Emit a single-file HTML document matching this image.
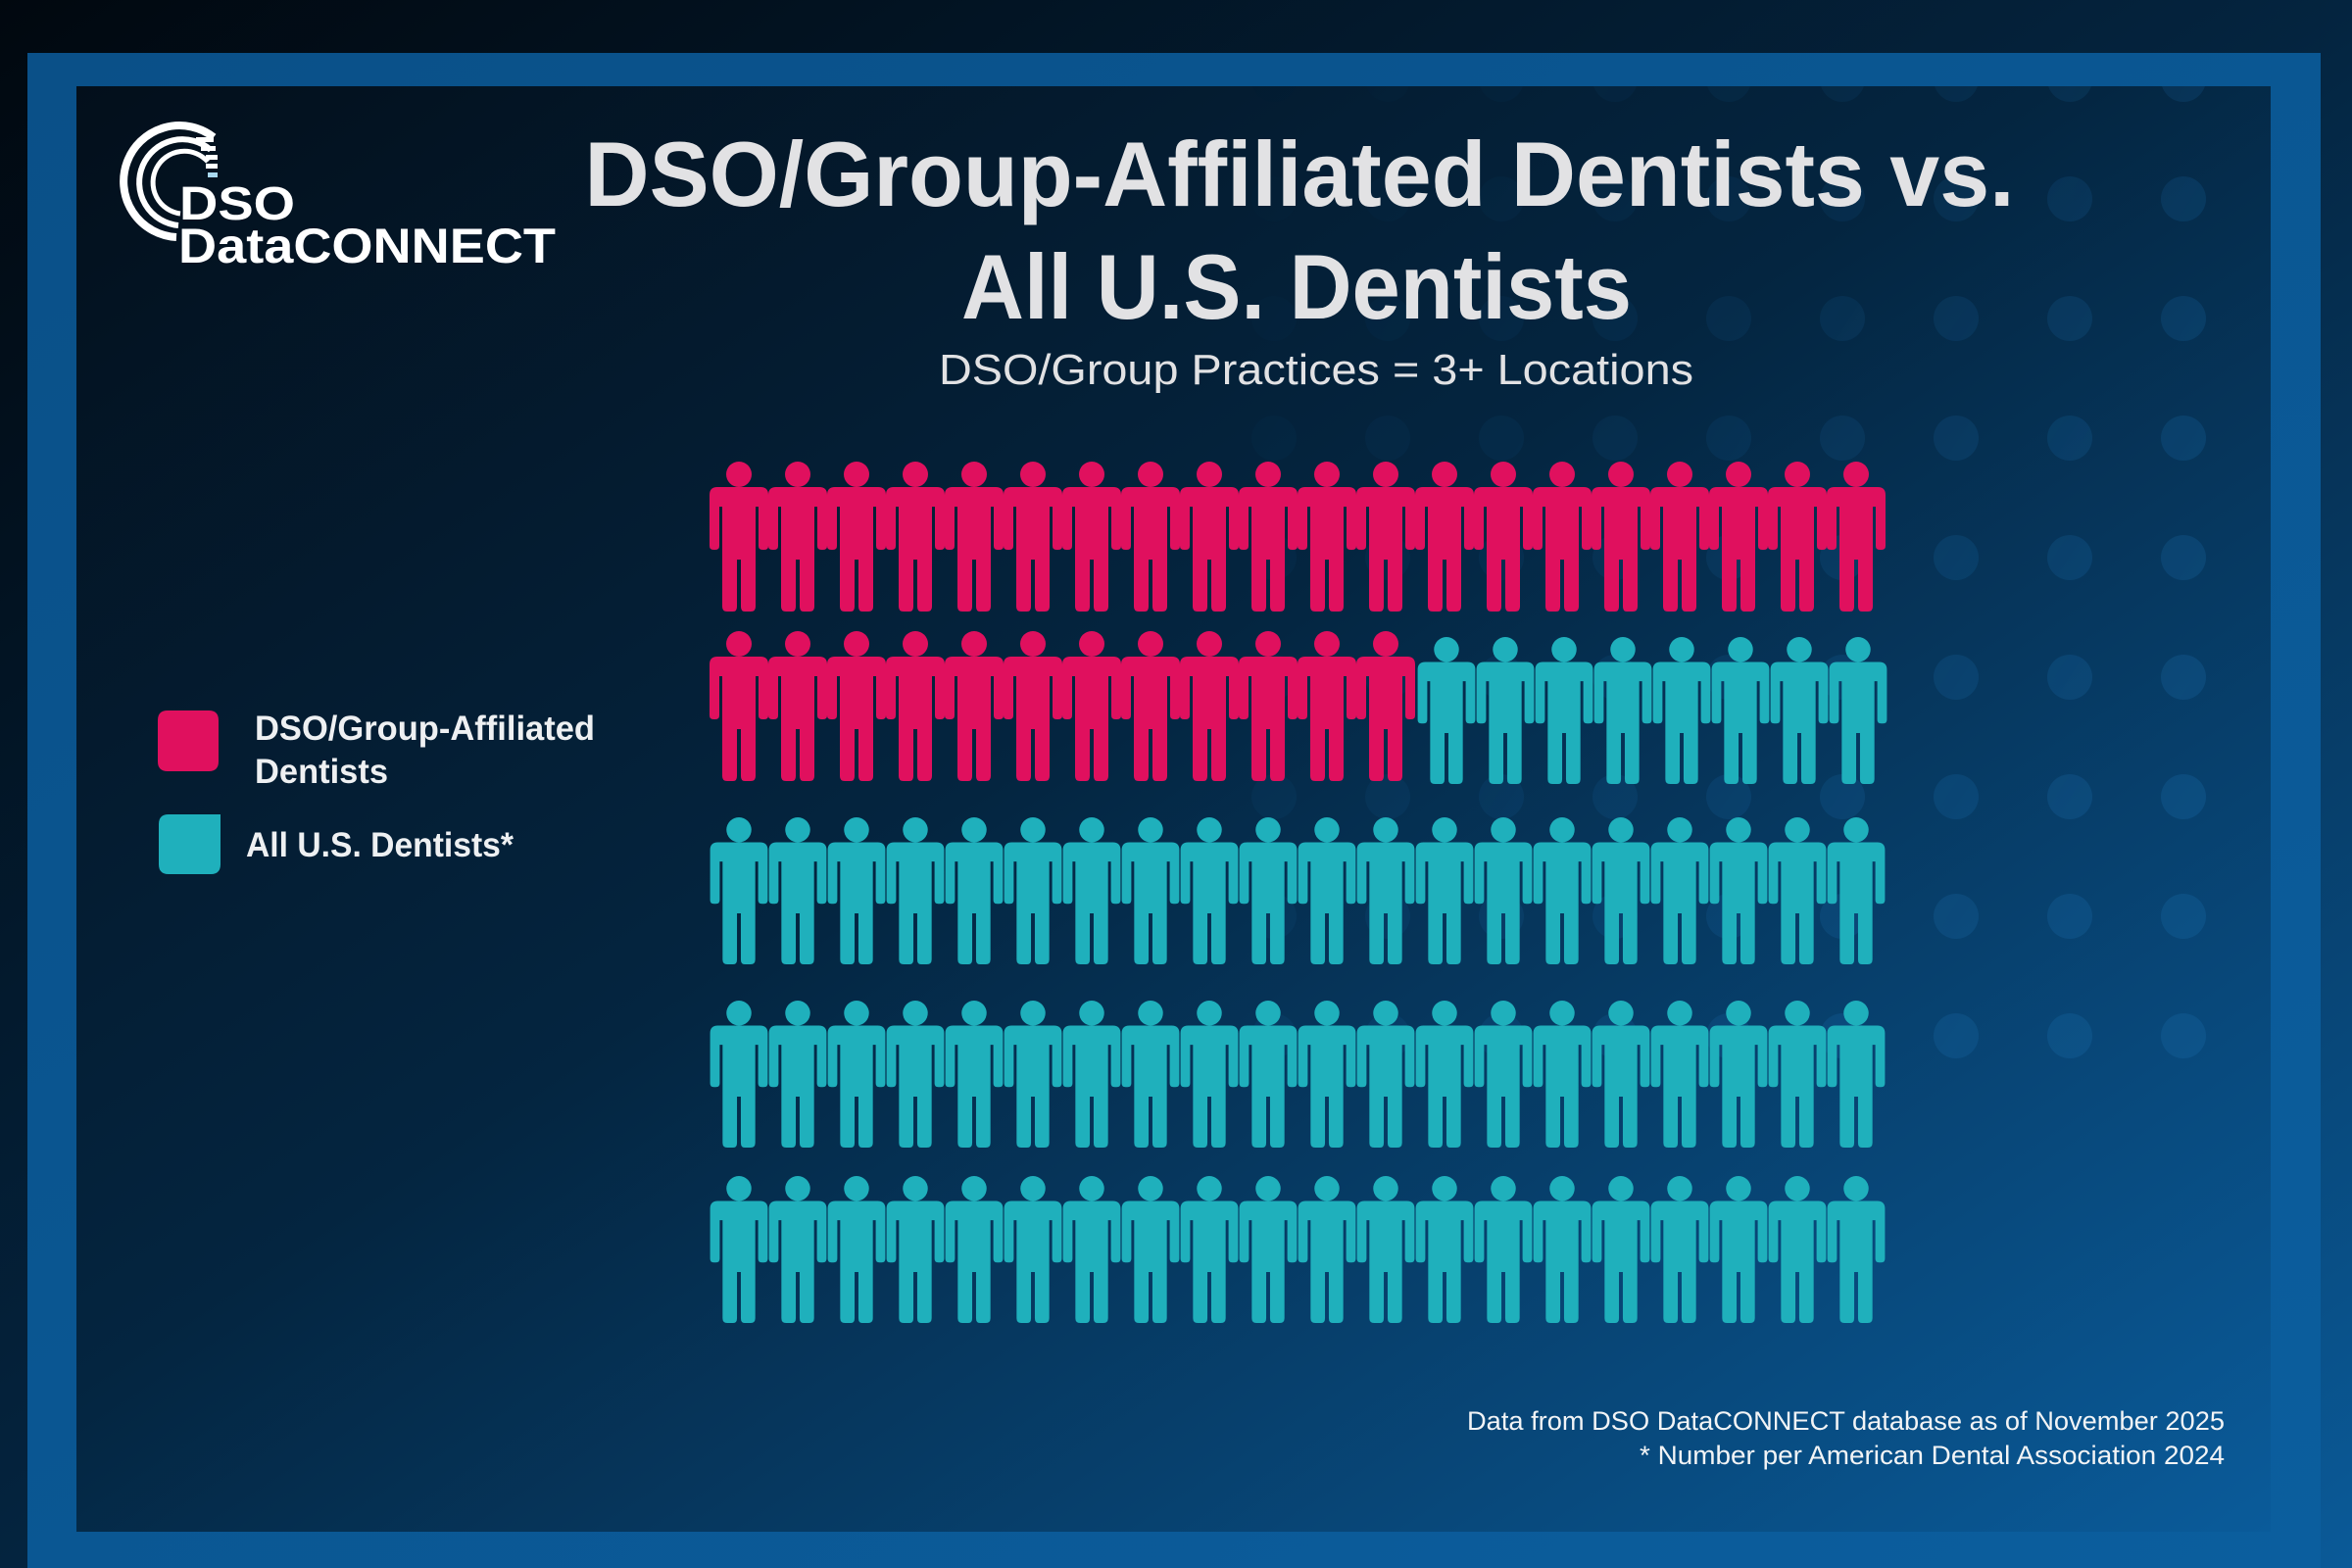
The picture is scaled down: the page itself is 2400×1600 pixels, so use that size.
<!DOCTYPE html>
<html><head><meta charset="utf-8"><style>
html,body{margin:0;padding:0;width:2400px;height:1600px;overflow:hidden;background:#021019;}
svg{display:block}
</style></head><body>
<svg width="2400" height="1600" viewBox="0 0 2400 1600" xmlns="http://www.w3.org/2000/svg">
<defs>
<linearGradient id="bg" x1="0" y1="0" x2="1" y2="1">
<stop offset="0" stop-color="#01080f"/><stop offset="0.5" stop-color="#04243f"/><stop offset="1" stop-color="#0a5a98"/>
</linearGradient>
<linearGradient id="panel" x1="0" y1="0" x2="1" y2="1">
<stop offset="0" stop-color="#030f1b"/><stop offset="0.45" stop-color="#042540"/><stop offset="1" stop-color="#0a5b9a"/>
</linearGradient>
<linearGradient id="frame" x1="0" y1="0" x2="1" y2="1">
<stop offset="0" stop-color="#0a5088"/><stop offset="1" stop-color="#0b5e9e"/>
</linearGradient>
<pattern id="dots" x="0" y="0" width="116" height="122" patternUnits="userSpaceOnUse">
<circle cx="24" cy="81" r="23" fill="#1a6aa8"/>
</pattern>
<linearGradient id="fade" x1="0" y1="0" x2="1" y2="0.6">
<stop offset="0" stop-color="#fff" stop-opacity="0"/><stop offset="0.5" stop-color="#fff" stop-opacity="0.12"/><stop offset="1" stop-color="#fff" stop-opacity="0.3"/>
</linearGradient>
<mask id="m"><rect x="1250" y="88" width="1070" height="1000" fill="url(#fade)"/></mask>
<symbol id="p" viewBox="0 0 60 153">
<circle cx="30" cy="13" r="13"/>
<path d="M8 26 H52 Q60 26 60 34 V86 Q60 90 56 90 H54 Q50 90 50 86 V46 H47 V148 Q47 153 42 153 H36 Q32 153 32 148 V100 H28 V148 Q28 153 24 153 H18 Q13 153 13 148 V46 H10 V86 Q10 90 6 90 H4 Q0 90 0 86 V34 Q0 26 8 26 Z"/>
</symbol>
</defs>
<rect width="2400" height="1600" fill="url(#bg)"/>
<rect x="28" y="54" width="2340" height="1560" fill="url(#frame)"/>
<rect x="78" y="88" width="2239" height="1475" fill="url(#panel)"/>
<rect x="1250" y="88" width="1067" height="1000" fill="url(#dots)" mask="url(#m)"/>

<!-- logo -->
<g fill="none" stroke="#fff">
<path d="M218 140 A57 57 0 1 0 180 242" stroke-width="8"/>
<path d="M215 153 A44 44 0 1 0 182 230" stroke-width="6"/>
<path d="M212 165 A32 32 0 1 0 184 218" stroke-width="5"/>
</g>
<g fill="#fff">
<rect x="200" y="140" width="18" height="5"/><rect x="205" y="149" width="15" height="5"/><rect x="210" y="158" width="12" height="5"/>
<rect x="210" y="167" width="12" height="5"/><rect x="212" y="176" width="10" height="5" fill="#a8d8f0"/>
</g>
<g font-family="Liberation Sans, sans-serif" font-weight="bold" fill="#fff">
<text x="183" y="224" font-size="48" textLength="118" lengthAdjust="spacingAndGlyphs">DSO</text>
<text x="182" y="268" font-size="50" textLength="385" lengthAdjust="spacingAndGlyphs">DataCONNECT</text>
</g>

<!-- title -->
<g font-family="Liberation Sans, sans-serif" fill="#e2e2e4" text-anchor="middle">
<text x="1326" y="210" font-size="94" font-weight="bold" textLength="1459" lengthAdjust="spacingAndGlyphs">DSO/Group-Affiliated Dentists vs.</text>
<text x="1323" y="325" font-size="94" font-weight="bold" textLength="684" lengthAdjust="spacingAndGlyphs">All U.S. Dentists</text>
<text x="1343" y="392" font-size="44" textLength="770" lengthAdjust="spacingAndGlyphs">DSO/Group Practices = 3+ Locations</text>
</g>

<!-- legend -->
<path d="M171 725 H213 Q223 725 223 735 V777 Q223 787 213 787 H171 Q161 787 161 777 V735 Q161 725 171 725 Z" fill="#e0105e"/>
<path d="M172 831 H225 V882 Q225 892 215 892 H172 Q162 892 162 882 V841 Q162 831 172 831 Z" fill="#1fb0bc"/>
<g font-family="Liberation Sans, sans-serif" font-weight="bold" fill="#eef0f2" font-size="35">
<text x="260" y="755" textLength="347" lengthAdjust="spacingAndGlyphs">DSO/Group-Affiliated</text>
<text x="260" y="799" textLength="136" lengthAdjust="spacingAndGlyphs">Dentists</text>
<text x="251" y="874" textLength="273" lengthAdjust="spacingAndGlyphs">All U.S. Dentists*</text>
</g>

<!-- people -->
<g id="people">
<g fill="#e0105e">
<use href="#p" x="724" y="471" width="60" height="153"/><use href="#p" x="784" y="471" width="60" height="153"/><use href="#p" x="844" y="471" width="60" height="153"/><use href="#p" x="904" y="471" width="60" height="153"/><use href="#p" x="964" y="471" width="60" height="153"/><use href="#p" x="1024" y="471" width="60" height="153"/><use href="#p" x="1084" y="471" width="60" height="153"/><use href="#p" x="1144" y="471" width="60" height="153"/><use href="#p" x="1204" y="471" width="60" height="153"/><use href="#p" x="1264" y="471" width="60" height="153"/><use href="#p" x="1324" y="471" width="60" height="153"/><use href="#p" x="1384" y="471" width="60" height="153"/><use href="#p" x="1444" y="471" width="60" height="153"/><use href="#p" x="1504" y="471" width="60" height="153"/><use href="#p" x="1564" y="471" width="60" height="153"/><use href="#p" x="1624" y="471" width="60" height="153"/><use href="#p" x="1684" y="471" width="60" height="153"/><use href="#p" x="1744" y="471" width="60" height="153"/><use href="#p" x="1804" y="471" width="60" height="153"/><use href="#p" x="1864" y="471" width="60" height="153"/>
<use href="#p" x="724" y="644" width="60" height="153"/><use href="#p" x="784" y="644" width="60" height="153"/><use href="#p" x="844" y="644" width="60" height="153"/><use href="#p" x="904" y="644" width="60" height="153"/><use href="#p" x="964" y="644" width="60" height="153"/><use href="#p" x="1024" y="644" width="60" height="153"/><use href="#p" x="1084" y="644" width="60" height="153"/><use href="#p" x="1144" y="644" width="60" height="153"/><use href="#p" x="1204" y="644" width="60" height="153"/><use href="#p" x="1264" y="644" width="60" height="153"/><use href="#p" x="1324" y="644" width="60" height="153"/><use href="#p" x="1384" y="644" width="60" height="153"/>
</g>
<g fill="#1fb0bc">
<use href="#p" x="1446" y="650" width="60" height="150"/><use href="#p" x="1506" y="650" width="60" height="150"/><use href="#p" x="1566" y="650" width="60" height="150"/><use href="#p" x="1626" y="650" width="60" height="150"/><use href="#p" x="1686" y="650" width="60" height="150"/><use href="#p" x="1746" y="650" width="60" height="150"/><use href="#p" x="1806" y="650" width="60" height="150"/><use href="#p" x="1866" y="650" width="60" height="150"/>
</g>
<g fill="#1fb0bc" id="trow">
<use href="#p" x="724" y="834" width="60" height="150"/><use href="#p" x="784" y="834" width="60" height="150"/><use href="#p" x="844" y="834" width="60" height="150"/><use href="#p" x="904" y="834" width="60" height="150"/><use href="#p" x="964" y="834" width="60" height="150"/><use href="#p" x="1024" y="834" width="60" height="150"/><use href="#p" x="1084" y="834" width="60" height="150"/><use href="#p" x="1144" y="834" width="60" height="150"/><use href="#p" x="1204" y="834" width="60" height="150"/><use href="#p" x="1264" y="834" width="60" height="150"/><use href="#p" x="1324" y="834" width="60" height="150"/><use href="#p" x="1384" y="834" width="60" height="150"/><use href="#p" x="1444" y="834" width="60" height="150"/><use href="#p" x="1504" y="834" width="60" height="150"/><use href="#p" x="1564" y="834" width="60" height="150"/><use href="#p" x="1624" y="834" width="60" height="150"/><use href="#p" x="1684" y="834" width="60" height="150"/><use href="#p" x="1744" y="834" width="60" height="150"/><use href="#p" x="1804" y="834" width="60" height="150"/><use href="#p" x="1864" y="834" width="60" height="150"/>
</g>
<use href="#trow" x="0" y="187"/>
<use href="#trow" x="0" y="366"/>
</g>

<!-- footnote -->
<g font-family="Liberation Sans, sans-serif" fill="#f2f4f6" font-size="27" text-anchor="end">
<text x="2270" y="1459" textLength="773" lengthAdjust="spacingAndGlyphs">Data from DSO DataCONNECT database as of November 2025</text>
<text x="2270" y="1494" textLength="597" lengthAdjust="spacingAndGlyphs">* Number per American Dental Association 2024</text>
</g>
</svg>
</body></html>
